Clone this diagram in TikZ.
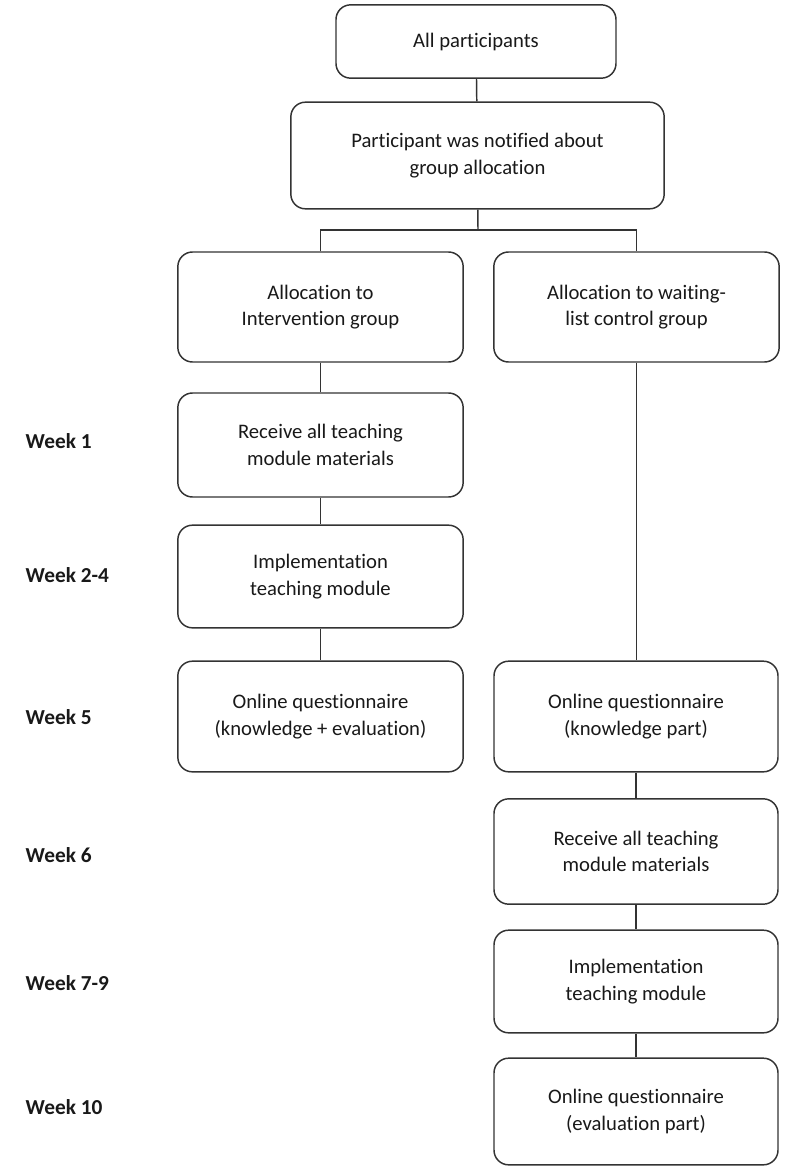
\documentclass[tikz,border=0pt]{standalone}
\usepackage{fontspec}
\setmainfont[Ligatures=NoCommon]{Carlito}
\usetikzlibrary{calc}

\tikzset{
	stepbox/.style={draw=black!80, line width=1.1pt, rounded corners=11pt, align=center,
		inner sep=0pt, font=\fontsize{15.5}{20}\selectfont, text=black!90},
	weeklabel/.style={anchor=west, font=\fontsize{16}{17}\selectfont\bfseries, text=black!90},
	link/.style={draw=black!80, line width=1.1pt}
}

\begin{document}
\begin{tikzpicture}[x=0.75pt, y=-0.75pt]
			%%%%% START %%%%%
			
			\fill[white] (0, 0) rectangle (787, 1174);
			\useasboundingbox (0, 0) rectangle (787, 1174);
			
			\node[stepbox, minimum width=210pt, minimum height=55pt] (all) at (476, 41.5) {All participants};
			\node[stepbox, minimum width=280pt, minimum height=80pt] (notified) at (477.5, 155.5) {Participant was notified about\\group allocation};
			\coordinate (split) at (478, 230);
			
			\node[stepbox, minimum width=214pt, minimum height=82.5pt] (allocI) at (320.5, 307) {Allocation to\\Intervention group};
			\node[stepbox, minimum width=214pt, minimum height=82.5pt] (allocW) at (636.5, 307) {Allocation to waiting-\\list control group};
			
			\node[stepbox, minimum width=214pt, minimum height=78pt] (recvI) at (320.5, 445) {Receive all teaching\\module materials};
			\node[stepbox, minimum width=214pt, minimum height=77pt] (implI) at (320.5, 576.5) {Implementation\\teaching module};
			\node[stepbox, minimum width=214pt, minimum height=83pt] (quesI) at (320.5, 716.5) {Online questionnaire\\(knowledge + evaluation)};
			
			\node[stepbox, minimum width=213pt, minimum height=83pt] (quesW) at (636, 716.5) {Online questionnaire\\(knowledge part)};
			\node[stepbox, minimum width=213pt, minimum height=79pt] (recvW) at (636, 851.5) {Receive all teaching\\module materials};
			\node[stepbox, minimum width=213pt, minimum height=77pt] (implW) at (636, 981.5) {Implementation\\teaching module};
			\node[stepbox, minimum width=213pt, minimum height=80pt] (evalW) at (636, 1111.5) {Online questionnaire\\(evaluation part)};
			
			% week labels
			\node[weeklabel] (wk1) at (21, 441) {Week 1};
			\node[weeklabel] (wk2) at (21, 575) {Week 2-4};
			\node[weeklabel] (wk5) at (21, 717) {Week 5};
			\node[weeklabel] (wk6) at (21, 855) {Week 6};
			\node[weeklabel] (wk7) at (21, 983) {Week 7-9};
			\node[weeklabel] (wk10) at (21, 1107) {Week 10};
			
			% connectors
			\draw[link] (all) -- (notified);
			\draw[link] (notified) -- (split);
			\draw[link] (allocI.north) |- (split) -| (allocW.north);
			
			\draw[link] (allocI) -- (recvI);
			\draw[link] (recvI) -- (implI);
			\draw[link] (implI) -- (quesI);
			
			\draw[link] (allocW.south) -- (allocW.south |- quesW.north);
			\draw[link] (quesW) -- (recvW);
			\draw[link] (recvW) -- (implW);
			\draw[link] (implW) -- (evalW);
			
			%%%%% END %%%%%
\end{tikzpicture}
\end{document}
